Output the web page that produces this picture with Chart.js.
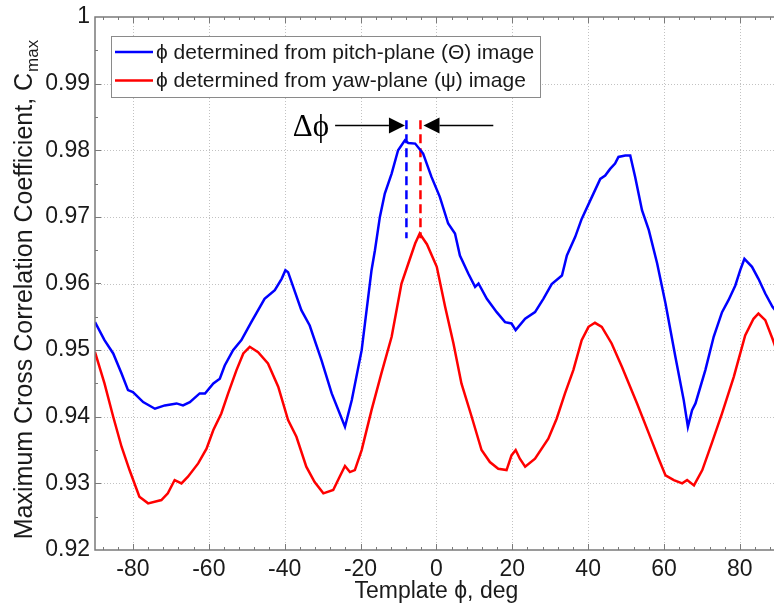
<!DOCTYPE html>
<html><head><meta charset="utf-8">
<script src="https://cdn.jsdelivr.net/npm/chart.js@4.4.1/dist/chart.umd.min.js"></script>
<style>html,body{margin:0;padding:0;background:#fff;overflow:hidden}#wrap{width:774px;height:610px;position:relative}</style>
</head><body><div id="wrap"><canvas id="c" width="774" height="610"></canvas></div>
<script>
// ---- data ----
const pitchAngles = [-90,-87.5,-85.2,-83,-81.3,-80,-77.3,-74.2,-71.6,-68.5,-66.8,-65,-62.4,-61,-58.8,-57.1,-55.8,-53.6,-51.4,-48.8,-45.3,-42.6,-40.8,-39.8,-39.1,-35.6,-33.4,-30.3,-27.6,-24.1,-22.3,-19.7,-17.1,-16.2,-14.9,-13.6,-11.8,-10.1,-8.3,-7.4,-5.6,-3.5,-1.3,0.9,3.1,4.9,6.2,8.4,10.2,11.1,13.3,15.9,18.1,19.8,20.9,23.4,26,28.2,30.4,33.1,34.4,36.6,38.3,41,43.2,44.5,45.8,47.1,48,49.8,51.1,52.4,54.2,56,58.2,60.4,63,65.2,66.3,67.4,68.3,70.9,73.1,75.3,77,78.8,80.1,81.2,83.2,84.9,86.7,88.6,90];
const pitchValues = [0.9542,0.9515,0.9495,0.9465,0.9440,0.9437,0.9422,0.9412,0.9417,0.9420,0.9417,0.9422,0.9435,0.9435,0.9450,0.9457,0.9477,0.9500,0.9515,0.9542,0.9577,0.9590,0.9607,0.9620,0.9617,0.9560,0.9537,0.9485,0.9435,0.9385,0.9425,0.9500,0.9620,0.9650,0.9700,0.9735,0.9765,0.9800,0.9815,0.9811,0.9810,0.9795,0.9760,0.9730,0.9690,0.9675,0.9642,0.9615,0.9595,0.9600,0.9577,0.9557,0.9542,0.9540,0.9530,0.9547,0.9557,0.9577,0.9599,0.9612,0.9642,0.9670,0.9697,0.9730,0.9757,0.9762,0.9772,0.9780,0.9790,0.9792,0.9792,0.9760,0.9710,0.9680,0.9630,0.9570,0.9490,0.9425,0.9385,0.9410,0.9420,0.9470,0.9520,0.9557,0.9575,0.9597,0.9620,0.9637,0.9625,0.9607,0.9585,0.9565,0.9555];
const yawAngles = [-90,-87.5,-85.2,-83,-80.9,-78.3,-76,-72.5,-70.8,-69,-67.2,-65.5,-62.8,-60.6,-58.8,-56.7,-54.9,-52.7,-50.9,-49.2,-47,-44.4,-41.7,-39.1,-36.9,-34.3,-32.1,-29.8,-27.2,-25.5,-24.1,-22.8,-21.5,-19.7,-17.1,-14.5,-11.8,-9.2,-7.4,-5.6,-4.4,-2.5,0.1,2.3,4.5,6.6,9.3,11.9,14.1,16.3,18.5,19.8,20.9,22,23.4,26,29.5,31.7,33.9,36.1,38.3,40.1,41.8,43.6,46.2,48.9,52.9,56,58.6,60.4,62.6,64.8,66.1,67.9,70.1,72.7,75.3,78.4,81.4,83.6,84.9,86.7,88.6,90];
const yawValues = [0.9497,0.9450,0.9400,0.9355,0.9320,0.9280,0.9270,0.9275,0.9285,0.9305,0.9300,0.9310,0.9330,0.9352,0.9380,0.9405,0.9435,0.9470,0.9495,0.9505,0.9497,0.9480,0.9445,0.9395,0.9370,0.9325,0.9302,0.9285,0.9290,0.9310,0.9326,0.9317,0.9320,0.9350,0.9410,0.9465,0.9520,0.9600,0.9630,0.9660,0.9675,0.9659,0.9625,0.9565,0.9510,0.9450,0.9400,0.9350,0.9332,0.9322,0.9320,0.9342,0.9350,0.9337,0.9325,0.9337,0.9367,0.9397,0.9435,0.9470,0.9515,0.9535,0.9541,0.9535,0.9510,0.9475,0.9420,0.9375,0.9337,0.9312,0.9305,0.9300,0.9305,0.9297,0.9320,0.9362,0.9405,0.9460,0.9522,0.9547,0.9555,0.9545,0.9517,0.9495];
const xTicks = [-80,-60,-40,-20,0,20,40,60,80];
const yTicks = [0.92,0.93,0.94,0.95,0.96,0.97,0.98,0.99,1];
const yTickLabels = ['0.92','0.93','0.94','0.95','0.96','0.97','0.98','0.99','1'];
const seriesLabels = ['\u03D5 determined from pitch-plane (\u0398) image','\u03D5 determined from yaw-plane (\u03C8) image'];
const seriesColors = ['#0000ff','#ff0000'];
const peakAngles = [-7.9,-4.2];          // dashed peak markers
const peakMarkerRange = [0.9845,0.9668];
const arrowLevel = 0.9837;
const arrowLeft = [-26.7,-8.3];          // tail, tip
const arrowRight = [15,-3.4];            // tail, tip
const xTitle = 'Template \u03D5, deg';
const yTitle = 'Maximum Cross Correlation Coefficient, C';
const yTitleSub = 'max';
const deltaLabel = '\u0394\u03D5';

const FONT = '"Liberation Sans", Arial, sans-serif';

const mk = (xs, ys) => xs.map((v,i)=>({x:v,y:ys[i]}));

const framePlugin = {
  id:'frame',
  beforeDatasetsDraw(chart){
    const {ctx, chartArea:a, scales:{x,y}} = chart;
    ctx.save();
    ctx.strokeStyle='#c2c2c2'; ctx.lineWidth=1; ctx.setLineDash([1,2]);
    xTicks.forEach(v=>{const p=Math.round(x.getPixelForValue(v))+0.5; ctx.beginPath(); ctx.moveTo(p,a.top); ctx.lineTo(p,a.bottom); ctx.stroke();});
    yTicks.forEach(v=>{const p=Math.round(y.getPixelForValue(v))+0.5; if(p<a.top+2||p>a.bottom-2) return; ctx.beginPath(); ctx.moveTo(a.left,p); ctx.lineTo(a.right,p); ctx.stroke();});
    ctx.restore();
  },
  afterDatasetsDraw(chart){
    const {ctx, chartArea:a, scales:{x,y}} = chart;
    ctx.save();
    ctx.strokeStyle='#7a7a7a'; ctx.lineWidth=1.5; ctx.setLineDash([]);
    ctx.beginPath();
    ctx.moveTo(a.right+2,a.top); ctx.lineTo(a.left,a.top); ctx.lineTo(a.left,a.bottom); ctx.lineTo(a.right+2,a.bottom);
    ctx.stroke();
    ctx.lineWidth=1;
    for(let v=-88; v<=88; v+=4){
      const p=Math.round(x.getPixelForValue(v))+0.5;
      const L = (v%20===0)?6:3;
      ctx.beginPath(); ctx.moveTo(p,a.bottom); ctx.lineTo(p,a.bottom-L); ctx.moveTo(p,a.top); ctx.lineTo(p,a.top+L); ctx.stroke();
    }
    for(let k=1;k<16;k++){
      const v=0.92+k*0.005; const p=Math.round(y.getPixelForValue(v))+0.5;
      const L=(k%2===0)?6:3;
      ctx.beginPath(); ctx.moveTo(a.left,p); ctx.lineTo(a.left+L,p); ctx.stroke();
    }
    ctx.restore();
  },
  afterDraw(chart){
    const {ctx, chartArea:a, scales:{x,y}} = chart;
    ctx.save();
    // legend box
    const bx=111, by=36, bw=429, bh=61;
    ctx.fillStyle='#fff'; ctx.fillRect(bx,by,bw,bh);
    ctx.strokeStyle='#8a8a8a'; ctx.lineWidth=1; ctx.strokeRect(bx+0.5,by+0.5,bw,bh);
    ctx.font='21px '+FONT; ctx.textBaseline='middle'; ctx.fillStyle='#1a1a1a';
    seriesLabels.forEach((t,i)=>{
      const ly=52+i*28.5;
      ctx.strokeStyle=seriesColors[i]; ctx.lineWidth=2.5;
      ctx.beginPath(); ctx.moveTo(115,ly); ctx.lineTo(153,ly); ctx.stroke();
      ctx.fillText(t,156,ly+1);
    });
    // arrows + delta label
    const ay=y.getPixelForValue(arrowLevel);
    ctx.strokeStyle='#000'; ctx.fillStyle='#000'; ctx.lineWidth=1.5;
    [arrowLeft,arrowRight].forEach(([tail,tip])=>{
      const t0=x.getPixelForValue(tail), t1=x.getPixelForValue(tip);
      const dir=Math.sign(t1-t0);
      const hb=t1-dir*16;
      ctx.beginPath(); ctx.moveTo(t0,ay); ctx.lineTo(hb,ay); ctx.stroke();
      ctx.beginPath(); ctx.moveTo(t1,ay); ctx.lineTo(hb,ay-8); ctx.lineTo(hb,ay+8); ctx.closePath(); ctx.fill();
    });
    ctx.font='31px "Liberation Serif", "Times New Roman", serif';
    ctx.textBaseline='alphabetic'; ctx.textAlign='right';
    ctx.fillText(deltaLabel, x.getPixelForValue(arrowLeft[0])-6, ay+10);
    // axis titles
    ctx.fillStyle='#1a1a1a';
    ctx.font='23px '+FONT; ctx.textAlign='center'; ctx.textBaseline='middle';
    const cx=(x.getPixelForValue(-90)+x.getPixelForValue(90))/2;
    ctx.fillText(xTitle,cx,592);
    // y title rotated with subscript
    const f1='25px '+FONT, f2='17px '+FONT;
    ctx.font=f1; const w1=ctx.measureText(yTitle).width;
    ctx.font=f2; const w2=ctx.measureText(yTitleSub).width;
    const tot=w1+w2+1;
    ctx.translate(23,(a.top+a.bottom)/2+6);
    ctx.rotate(-Math.PI/2);
    ctx.textAlign='left'; ctx.textBaseline='alphabetic';
    ctx.font=f1; ctx.fillText(yTitle,-tot/2,9);
    ctx.font=f2; ctx.fillText(yTitleSub,-tot/2+w1+1,15);
    ctx.restore();
  }
};

const peakSets = peakAngles.map((ang,i)=>({
  data:[{x:ang,y:peakMarkerRange[0]},{x:ang,y:peakMarkerRange[1]}],
  borderColor:seriesColors[i], borderWidth:2.5, borderDash:[9,5], pointRadius:0, tension:0
}));

new Chart(document.getElementById('c'),{
  type:'line',
  data:{datasets:[
    {label:seriesLabels[0], data:mk(pitchAngles,pitchValues), borderColor:seriesColors[0], borderWidth:2.5, pointRadius:0, tension:0},
    {label:seriesLabels[1], data:mk(yawAngles,yawValues), borderColor:seriesColors[1], borderWidth:2.5, pointRadius:0, tension:0},
    ...peakSets
  ]},
  options:{
    responsive:false, animation:false, devicePixelRatio:1,
    layout:{padding:{top:17,left:0,right:0,bottom:0}},
    plugins:{legend:{display:false}, tooltip:{enabled:false}},
    scales:{
      x:{type:'linear', min:-90, max:89,
        afterBuildTicks:s=>{s.ticks=xTicks.map(v=>({value:v}));},
        afterFit:s=>{s.height=60; s.paddingLeft=0; s.paddingRight=0;},
        grid:{display:false, drawTicks:false}, border:{display:false},
        ticks:{padding:6, maxRotation:0, autoSkip:false, color:'#1a1a1a', font:{family:FONT,size:23}}
      },
      y:{type:'linear', min:0.92, max:1,
        afterBuildTicks:s=>{s.ticks=yTicks.map(v=>({value:v}));},
        afterFit:s=>{s.width=95; s.paddingTop=0; s.paddingBottom=0;},
        grid:{display:false, drawTicks:false}, border:{display:false},
        ticks:{padding:5, autoSkip:false, color:'#1a1a1a', font:{family:FONT,size:23},
          callback:(v)=>{let best=0;yTicks.forEach((t,i)=>{if(Math.abs(t-v)<Math.abs(yTicks[best]-v))best=i;});return yTickLabels[best];}}
      }
    }
  },
  plugins:[framePlugin]
});
</script></body></html>
